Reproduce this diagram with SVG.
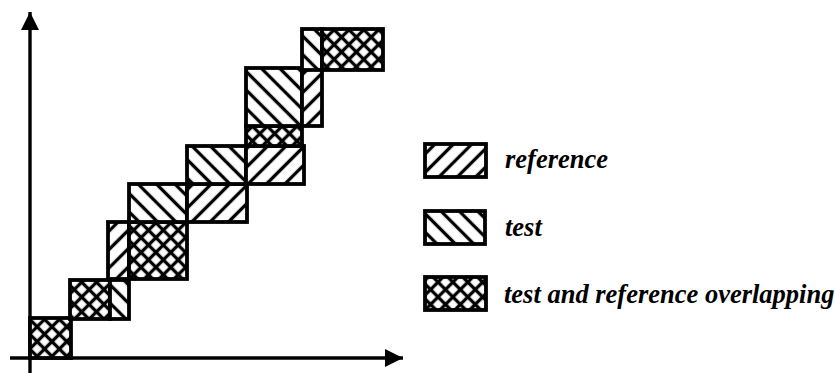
<svg xmlns="http://www.w3.org/2000/svg" width="835" height="373" viewBox="0 0 835 373">
<style>
.b{stroke:#000;stroke-width:3.8;stroke-linejoin:miter}
.r{fill:url(#hRef)}
.t{fill:url(#hTest)}
.x{fill:url(#hCross)}
.lbl{font-family:"Liberation Serif","Times New Roman",serif;font-style:italic;font-weight:bold;font-size:26.5px;fill:#000}
.ax{stroke:#000;stroke-width:3.4;fill:none}
</style>
<defs>
<pattern id="hRef" patternUnits="userSpaceOnUse" width="13" height="13" patternTransform="rotate(45)">
<rect width="13" height="13" fill="#fff"/>
<line x1="6.5" y1="-1" x2="6.5" y2="14" stroke="#000" stroke-width="3.3"/>
</pattern>
<pattern id="hTest" patternUnits="userSpaceOnUse" width="13" height="13" patternTransform="rotate(-45)">
<rect width="13" height="13" fill="#fff"/>
<line x1="6.5" y1="-1" x2="6.5" y2="14" stroke="#000" stroke-width="3.3"/>
</pattern>
<pattern id="hCross" patternUnits="userSpaceOnUse" width="10.5" height="10.5" patternTransform="rotate(45)">
<rect width="10.5" height="10.5" fill="#fff"/>
<line x1="5.25" y1="-1" x2="5.25" y2="11.5" stroke="#000" stroke-width="3.3"/>
<line x1="-1" y1="5.25" x2="11.5" y2="5.25" stroke="#000" stroke-width="3.3"/>
</pattern>
<marker id="arr" markerUnits="userSpaceOnUse" markerWidth="20" markerHeight="20" refX="18" refY="9" orient="auto">
<path d="M0,0 L18,9 L0,18 Z" fill="#000"/>
</marker>
</defs>

<g id="axes">
<line class="ax" x1="30" y1="373" x2="30" y2="12" marker-end="url(#arr)"/>
<line class="ax" x1="10" y1="358" x2="403" y2="358" marker-end="url(#arr)"/>
</g>

<g id="row1">
<rect class="b x" x="30" y="318" width="41" height="40"/>
</g>
<g id="row2">
<rect class="b x" x="70" y="280" width="40" height="39"/>
<rect class="b t" x="110" y="280" width="19" height="39"/>
</g>
<g id="row3">
<rect class="b r" x="108" y="222" width="21" height="57"/>
<rect class="b x" x="129" y="222" width="58" height="57"/>
</g>
<g id="row4">
<rect class="b t" x="129" y="184" width="58" height="38"/>
<rect class="b r" x="187" y="184" width="60" height="38"/>
</g>
<g id="row5">
<rect class="b t" x="187" y="146" width="59" height="38"/>
<rect class="b r" x="246" y="146" width="58" height="38"/>
</g>
<g id="row6">
<rect class="b x" x="246" y="126" width="56" height="20"/>
<rect class="b t" x="246" y="68" width="56" height="58"/>
<rect class="b r" x="302" y="68" width="20" height="58"/>
</g>
<g id="row7">
<rect class="b t" x="302" y="29" width="20" height="41"/>
<rect class="b x" x="322" y="29" width="61" height="41"/>
</g>

<g id="legend-reference">
<rect class="b r" x="425" y="144" width="61" height="33"/>
<text class="lbl" x="505" y="168">reference</text>
</g>
<g id="legend-test">
<rect class="b t" x="425" y="211" width="60" height="33"/>
<text class="lbl" x="505" y="236">test</text>
</g>
<g id="legend-overlap">
<rect class="b x" x="425" y="277" width="61" height="33"/>
<text class="lbl" x="504" y="303">test and reference overlapping</text>
</g>
</svg>
